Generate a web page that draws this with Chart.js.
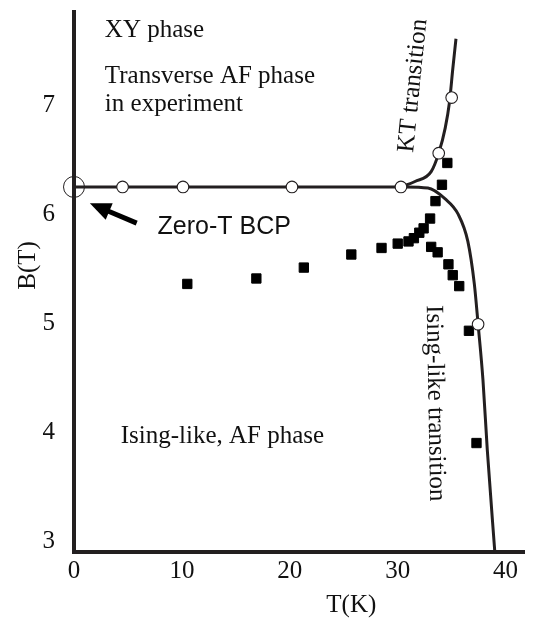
<!DOCTYPE html>
<html>
<head>
<meta charset="utf-8">
<script src="https://cdn.jsdelivr.net/npm/chart.js@4.4.1/dist/chart.umd.min.js"></script>
<style>
  html, body { margin: 0; padding: 0; background: #fff; }
  #wrap { width: 536px; height: 624px; }
</style>
</head>
<body>
<div id="wrap"><canvas id="phaseChart" width="536" height="624"></canvas></div>
<script>
// axis ranges and ticks
const T_MIN = 0, T_MAX = 41.75;
const B_MIN = 2.9, B_MAX = 7.86;
const tTicks = [0, 10, 20, 30, 40];
const bTicks = [3, 4, 5, 6, 7];

// theory: flat boundary leaving the zero-T BCP
const flatT = [0, 30.3];
const flatB = [6.25, 6.25];
// KT branch
const ktT = [30.3, 31.6, 33.1, 33.8, 34.4, 34.8, 35.1, 35.4];
const ktB = [6.25, 6.30, 6.39, 6.56, 6.79, 7.03, 7.33, 7.61];
// Ising-like branch
const isingT = [30.3, 32.8, 34.4, 35.6, 36.5, 37.1, 37.45, 37.9, 38.3, 39.0];
const isingB = [6.25, 6.24, 6.14, 6.00, 5.75, 5.36, 4.99, 4.48, 3.84, 2.90];
// computed transition points (open circles)
const calcT = [4.5, 10.1, 20.2, 30.3, 33.8, 35.0, 37.45];
const calcB = [6.25, 6.25, 6.25, 6.25, 6.56, 7.07, 4.99];
// zero-T bicritical point
const bcpT = [0];
const bcpB = [6.25];
// measured transition points (filled squares)
const expT = [10.5, 16.9, 21.3, 25.7, 28.5, 30.0, 31.0, 31.5, 32.0, 32.4, 33.0, 33.5, 34.1, 34.6,
              33.1, 33.7, 34.7, 35.1, 35.7, 36.6, 37.3];
const expB = [5.36, 5.41, 5.51, 5.63, 5.69, 5.73, 5.75, 5.78, 5.83, 5.87, 5.96, 6.12, 6.27, 6.47,
              5.70, 5.65, 5.54, 5.44, 5.34, 4.93, 3.90];

const ink = '#231f20';
const textInk = '#111';
const serif = '25px "Liberation Serif", "Times New Roman", serif';
const sans = '25px "Liberation Sans", Arial, sans-serif';

const pts = (xs, ys) => xs.map((v, i) => ({ x: v, y: ys[i] }));

// text placed in data units (T, B)
const notes = [
  { text: 'XY phase', t: 2.86, b: 7.626, font: serif },
  { text: 'Transverse AF phase', t: 2.86, b: 7.205, font: serif },
  { text: 'in experiment', t: 2.86, b: 6.949, font: serif },
  { text: 'Zero-T BCP', t: 7.74, b: 5.817, font: sans },
  { text: 'Ising-like, AF phase', t: 4.33, b: 3.904, font: serif },
  { text: 'KT transition', t: 31.43, b: 7.18, font: serif, rot: -84.2, align: 'center', base: 'middle' },
  { text: 'Ising-like transition', t: 33.46, b: 4.265, font: serif, rot: 89, align: 'center', base: 'middle' },
  { text: 'B(T)', t: -4.24, b: 5.53, font: serif, rot: -90, align: 'center', base: 'middle' },
  { text: 'T(K)', t: 25.7, b: 2.347, font: serif, align: 'center' }
];
const arrowFrom = { t: 5.81, b: 5.918 };
const arrowTo = { t: 1.47, b: 6.10 };

const annotate = {
  id: 'annotate',
  afterDraw(chart) {
    const { ctx, scales: { x, y } } = chart;
    ctx.save();
    ctx.fillStyle = textInk;
    notes.forEach(n => {
      ctx.save();
      ctx.font = n.font;
      ctx.translate(x.getPixelForValue(n.t), y.getPixelForValue(n.b));
      if (n.rot) ctx.rotate(n.rot * Math.PI / 180);
      ctx.textAlign = n.align || 'left';
      ctx.textBaseline = n.base || 'alphabetic';
      ctx.fillText(n.text, 0, 0);
      ctx.restore();
    });

    // arrow pointing at the BCP
    const x0 = x.getPixelForValue(arrowFrom.t), y0 = y.getPixelForValue(arrowFrom.b);
    const x1 = x.getPixelForValue(arrowTo.t), y1 = y.getPixelForValue(arrowTo.b);
    const len = Math.hypot(x0 - x1, y0 - y1);
    const ux = (x0 - x1) / len, uy = (y0 - y1) / len;
    const headLen = 21, headHalf = 9;
    const bx = x1 + ux * headLen, by = y1 + uy * headLen;
    ctx.strokeStyle = '#000';
    ctx.fillStyle = '#000';
    ctx.lineWidth = 5;
    ctx.beginPath();
    ctx.moveTo(x0, y0);
    ctx.lineTo(bx - ux * 2, by - uy * 2);
    ctx.stroke();
    ctx.beginPath();
    ctx.moveTo(x1, y1);
    ctx.lineTo(bx - uy * headHalf, by + ux * headHalf);
    ctx.lineTo(bx + uy * headHalf, by - ux * headHalf);
    ctx.closePath();
    ctx.fill();
    ctx.restore();
  }
};

const curve = (label, xs, ys) => ({
  label, data: pts(xs, ys), showLine: true, borderColor: ink, borderWidth: 3,
  pointRadius: 0, cubicInterpolationMode: 'monotone', fill: false
});

new Chart(document.getElementById('phaseChart'), {
  type: 'scatter',
  data: {
    datasets: [
      { label: 'calc', data: pts(calcT, calcB), pointStyle: 'circle', pointRadius: 5.8,
        pointBackgroundColor: '#fff', pointBorderColor: ink, pointBorderWidth: 1.1, clip: false },
      { label: 'BCP', data: pts(bcpT, bcpB), pointStyle: 'circle', pointRadius: 10.5,
        pointBackgroundColor: 'rgba(0,0,0,0)', pointBorderColor: ink, pointBorderWidth: 1, clip: false },
      { label: 'exp', data: pts(expT, expB), pointStyle: 'rect', pointRadius: 6.6,
        pointBackgroundColor: '#000', pointBorderColor: '#000', pointBorderWidth: 1, clip: false },
      curve('flat', flatT, flatB),
      curve('KT', ktT, ktB),
      curve('Ising', isingT, isingB)
    ]
  },
  options: {
    responsive: false,
    animation: false,
    devicePixelRatio: 1,
    events: [],
    layout: { padding: { top: 9, right: 9, left: 0, bottom: 0 } },
    plugins: { legend: { display: false }, tooltip: { enabled: false } },
    scales: {
      x: {
        type: 'linear', min: T_MIN, max: T_MAX,
        afterBuildTicks: s => { s.ticks = tTicks.map(v => ({ value: v })); },
        afterFit: s => { s.height = 72; s.paddingLeft = 0; s.paddingRight = 0; },
        grid: { display: false, drawTicks: false },
        border: { display: true, width: 4, color: ink },
        ticks: { padding: 4, color: textInk, font: { family: '"Liberation Serif", serif', size: 25 },
                 maxRotation: 0, autoSkip: false }
      },
      y: {
        type: 'linear', min: B_MIN, max: B_MAX,
        afterBuildTicks: s => { s.ticks = bTicks.map(v => ({ value: v })); },
        afterFit: s => { s.width = 74; s.paddingTop = 0; s.paddingBottom = 0; },
        grid: { display: false, drawTicks: false },
        border: { display: true, width: 4, color: ink },
        ticks: { padding: 19, color: textInk, font: { family: '"Liberation Serif", serif', size: 25 },
                 autoSkip: false }
      }
    }
  },
  plugins: [annotate]
});
</script>
</body>
</html>
